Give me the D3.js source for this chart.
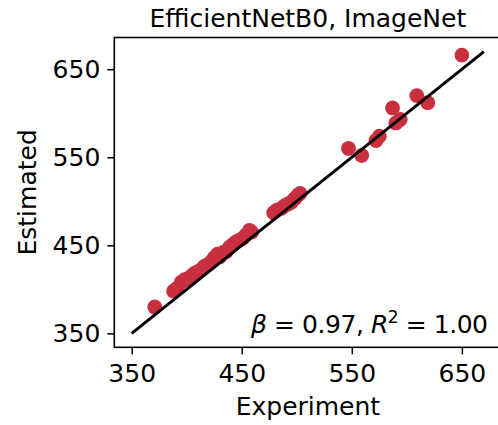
<!DOCTYPE html>
<html><head><meta charset="utf-8">
<script src="https://cdn.jsdelivr.net/npm/d3@7"></script>
<style>body{margin:0;background:#fff;} svg{display:block;}</style>
</head><body>
<svg id="c" width="498" height="425"></svg>
<script>
const title = "EfficientNetB0, ImageNet";
const xLabel = "Experiment";
const yLabel = "Estimated";
const xTicks = [350, 450, 550, 650];
const yTicks = [350, 450, 550, 650];
const experiment = [371,388,391,395,398,401,404,407,410,413,416,419,422,425,428,430,433,436,439,442,445,448,451,454,457,459,
  479,482,486,489,492,495,498,501,503,
  547,559,572,575,587,590,594,609,619,650];
const estimated = [380,398,401,408,411,412,415,418,420,422,426,428,431,436,440,437,442,443,448,451,454,456,458,462,467,465,
  487,490,492,495,497,499,503,507,509,
  560,552,569,574,606,589,593,620,612,666];
const fitX = [350, 670];
const fitY = [350, 670];

const svg = d3.select("#c");
const font = "DejaVu Sans, sans-serif";
const FS = 25;
const L = 114.3, R = 501.5, T = 37.5, B = 347.3;
const x = d3.scaleLinear().domain([334.2, 686]).range([L, R]);
const y = d3.scaleLinear().domain([334.2, 686]).range([B, T]);

// points
svg.append("g").selectAll("circle").data(experiment.map((e,i)=>[e, estimated[i]]))
  .join("circle").attr("cx", d=>x(d[0])).attr("cy", d=>y(d[1])).attr("r", 7.4)
  .attr("fill", "#c9303f");

// fit line
svg.append("line").attr("x1", x(fitX[0])).attr("y1", y(fitY[0]))
  .attr("x2", x(fitX[1])).attr("y2", y(fitY[1]))
  .attr("stroke", "#000").attr("stroke-width", 3);

// axes
const xa = svg.append("g").attr("transform", `translate(0,${B})`)
  .call(d3.axisBottom(x).tickValues(xTicks).tickSize(7).tickPadding(9.5).tickFormat(d3.format("d")));
const ya = svg.append("g").attr("transform", `translate(${L},0)`)
  .call(d3.axisLeft(y).tickValues(yTicks).tickSize(7).tickPadding(7).tickFormat(d3.format("d")));
[xa, ya].forEach(a => {
  a.select(".domain").remove();
  a.selectAll(".tick line").attr("stroke", "#000").attr("stroke-width", 1.5);
  a.selectAll(".tick text").attr("font-family", font).attr("font-size", FS).attr("fill", "#000");
});

// frame
svg.append("rect").attr("x", L).attr("y", T).attr("width", R-L).attr("height", B-T)
  .attr("fill", "none").attr("stroke", "#000").attr("stroke-width", 1.6);

// labels
svg.append("text").attr("x", (L+R)/2).attr("y", 27).attr("text-anchor", "middle")
  .attr("font-family", font).attr("font-size", FS).text(title);
svg.append("text").attr("x", (L+R)/2).attr("y", 415).attr("text-anchor", "middle")
  .attr("font-family", font).attr("font-size", FS).text(xLabel);
svg.append("text").attr("transform", `translate(35.5,${(T+B)/2}) rotate(-90)`).attr("text-anchor", "middle")
  .attr("font-family", font).attr("font-size", FS).text(yLabel);

// annotation
const ann = svg.append("text").attr("x", 251).attr("y", 333)
  .attr("font-family", font).attr("font-size", FS)
  .attr("textLength", 237).attr("lengthAdjust", "spacing");
ann.append("tspan").attr("font-style", "italic").text("β");
ann.append("tspan").text(" = 0.97, ");
ann.append("tspan").attr("font-style", "italic").text("R");
ann.append("tspan").attr("font-size", 17).attr("dy", -10).text("2");
ann.append("tspan").attr("dy", 10).text(" = 1.00");
</script>
</body></html>
